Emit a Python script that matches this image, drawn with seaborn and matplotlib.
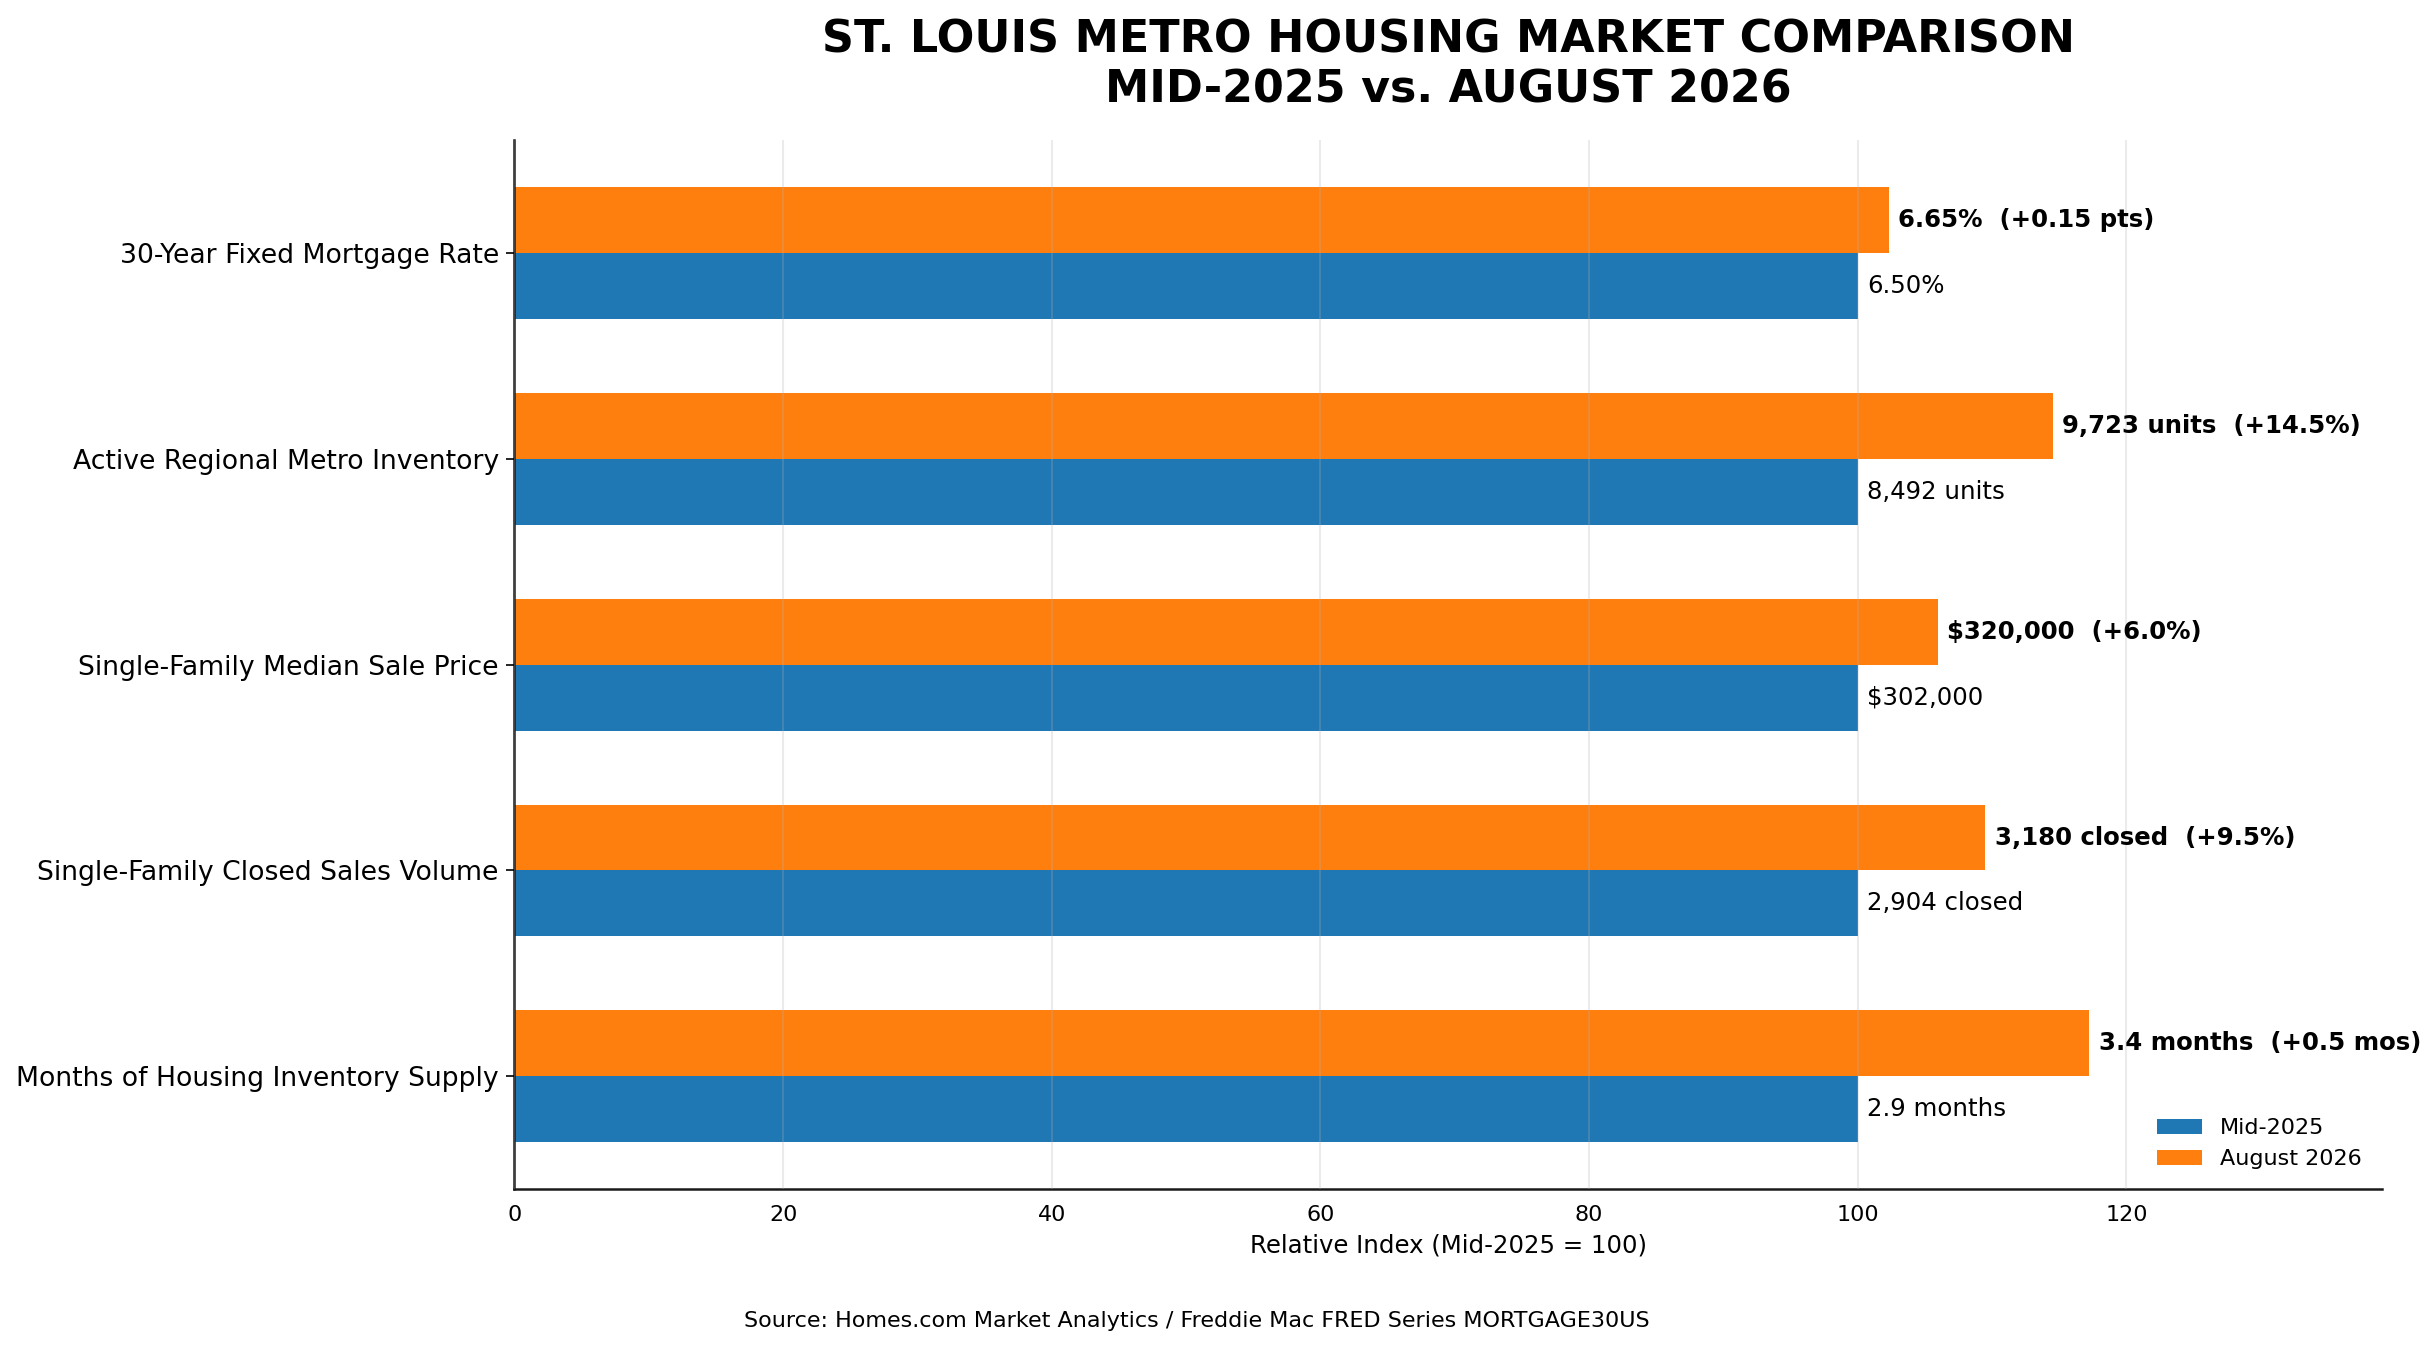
import seaborn as sns
import matplotlib.pyplot as plt
import pandas as pd

# data
metrics = ['30-Year Fixed Mortgage Rate', 'Active Regional Metro Inventory',
           'Single-Family Median Sale Price', 'Single-Family Closed Sales Volume',
           'Months of Housing Inventory Supply']
mid_2025 = [6.50, 8492, 302000, 2904, 2.9]
aug_2026 = [6.65, 9723, 320000, 3180, 3.4]
mid_labels = ['6.50%', '8,492 units', '$302,000', '2,904 closed', '2.9 months']
aug_labels = ['6.65%  (+0.15 pts)', '9,723 units  (+14.5%)', '$320,000  (+6.0%)',
              '3,180 closed  (+9.5%)', '3.4 months  (+0.5 mos)']

mid_idx = [100.0] * len(metrics)
aug_idx = [a / m * 100 for a, m in zip(aug_2026, mid_2025)]

df = pd.DataFrame({
    'metric': metrics * 2,
    'period': ['August 2026'] * len(metrics) + ['Mid-2025'] * len(metrics),
    'value': aug_idx + mid_idx,
})

sns.set_style('white')
plt.rcParams['font.family'] = ['DejaVu Sans']
plt.rcParams['text.color'] = 'black'
plt.rcParams['axes.labelcolor'] = 'black'
plt.rcParams['xtick.color'] = 'black'
plt.rcParams['ytick.color'] = 'black'

fig = plt.figure(figsize=(16.24, 8.98), dpi=150, facecolor='white')
ax = fig.add_axes([0.2112, 0.117, 0.7665, 0.779])

colors = {'Mid-2025': '#1f77b4', 'August 2026': '#ff7f0e'}
sns.barplot(data=df, y='metric', x='value', hue='period',
            hue_order=['August 2026', 'Mid-2025'], palette=colors,
            order=metrics, orient='h', width=0.64, gap=0, saturation=1,
            linewidth=0, ax=ax, legend=True)

# value labels
for i in range(len(metrics)):
    ax.text(mid_idx[i] + 0.7, i + 0.16, mid_labels[i], va='center', ha='left',
            fontsize=11.7)
    ax.text(aug_idx[i] + 0.7, i - 0.16, aug_labels[i], va='center', ha='left',
            fontsize=11.7, fontweight='bold')

ax.set_xlim(0, 139)
ax.set_ylim(4.55, -0.55)
ax.set_xticks([0, 20, 40, 60, 80, 100, 120])
ax.tick_params(axis='x', labelsize=10.7, length=4)
ax.tick_params(axis='y', labelsize=12.8, length=4, left=True)
ax.set_ylabel('')
ax.set_xlabel('Relative Index (Mid-2025 = 100)', fontsize=11.7)
ax.xaxis.grid(True, color='#b0b0b0', linewidth=1, alpha=0.25)
ax.set_axisbelow(False)
for line in ax.get_xgridlines():
    line.set_zorder(3)
sns.despine(ax=ax)
for s in ['left', 'bottom']:
    ax.spines[s].set_color('#1a1a1a')
    ax.spines[s].set_linewidth(1.2)

ax.set_title('ST. LOUIS METRO HOUSING MARKET COMPARISON\nMID-2025 vs. AUGUST 2026',
             fontsize=21.3, fontweight='bold', pad=18)

handles, labels = ax.get_legend_handles_labels()
order = [labels.index('Mid-2025'), labels.index('August 2026')]
ax.legend([handles[k] for k in order], [labels[k] for k in order],
          loc='lower right', frameon=False, fontsize=10.7)

fig.text(0.4915, 0.012, 'Source: Homes.com Market Analytics / Freddie Mac FRED Series MORTGAGE30US',
         ha='center', va='bottom', fontsize=10.7)

fig.savefig('out.png', dpi=150, facecolor='white')
